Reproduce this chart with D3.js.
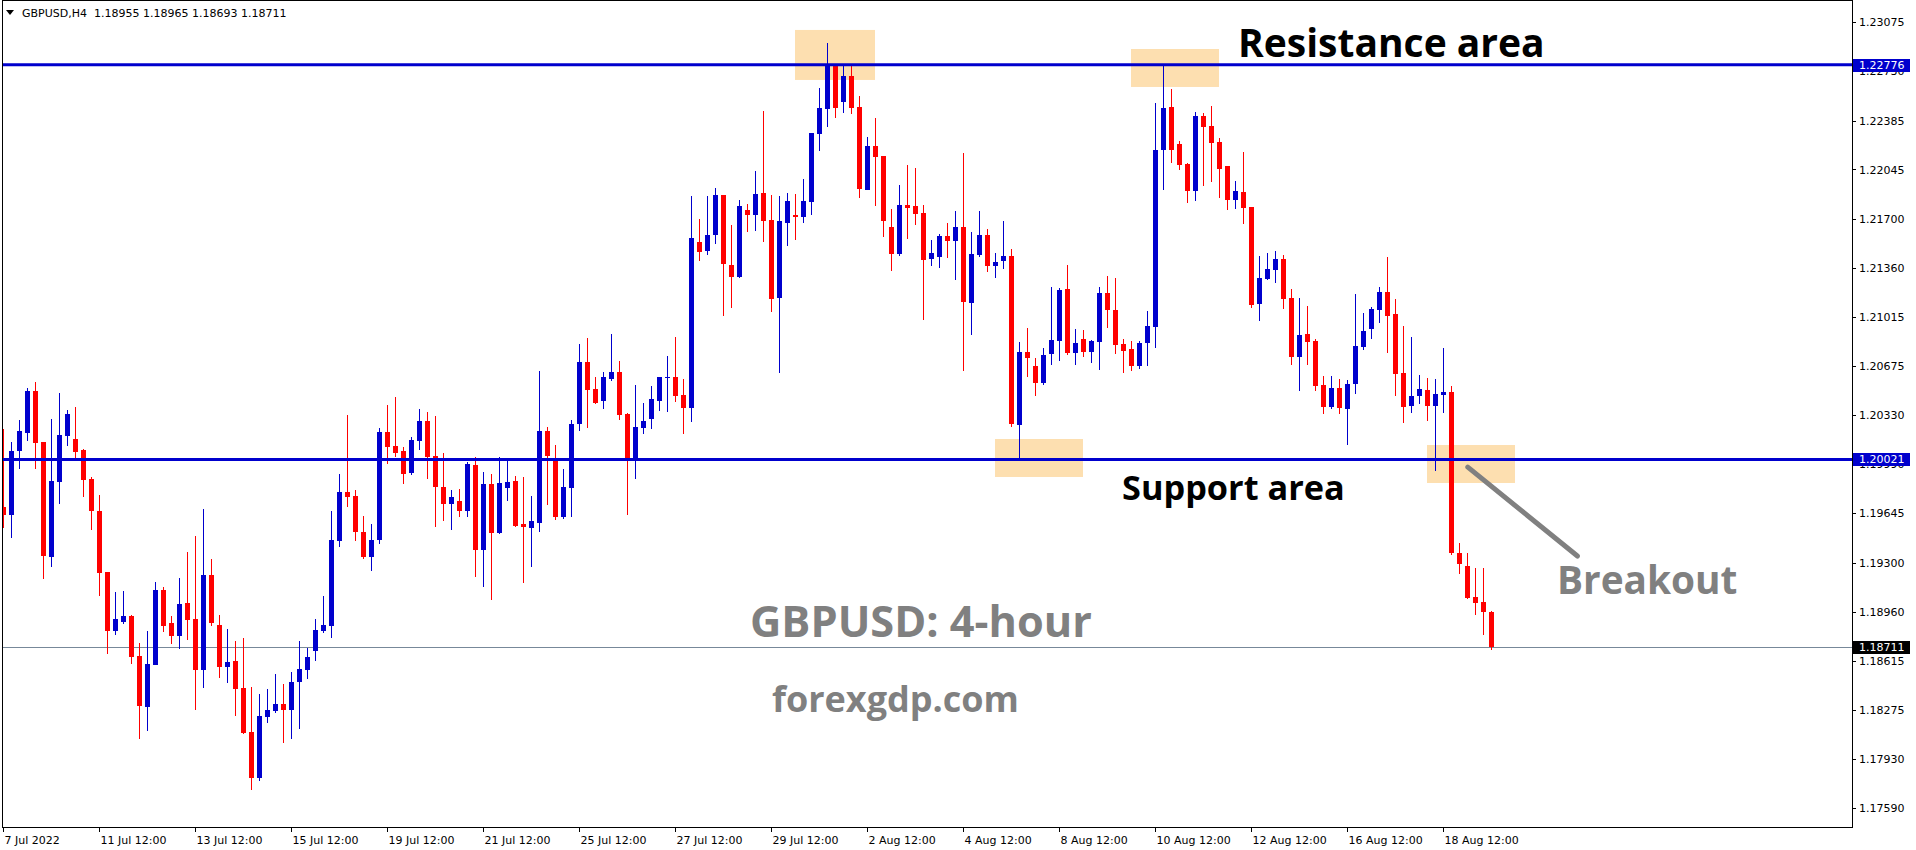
<!DOCTYPE html>
<html><head><meta charset="utf-8">
<script src="https://cdn.jsdelivr.net/npm/d3@7"></script>
<style>body{margin:0;background:#fff;overflow:hidden}svg{display:block}</style>
</head><body>
<svg id="c" width="1916" height="850"></svg>
<script>
// ---------- DATA ----------
const headerText = "GBPUSD,H4  1.18955 1.18965 1.18693 1.18711";
const opens = [1.19691,1.19635,1.20082,1.20208,1.20499,1.20143,1.19342,1.19864,1.20187,1.20164,
1.20087,1.19885,1.19661,1.19235,1.18826,1.18889,1.18928,1.18649,1.18295,1.18588,
1.19110,1.18879,1.18791,1.19019,1.18907,1.18553,1.19214,1.18865,1.18574,1.18614,
1.18426,1.18119,1.17800,1.18225,1.18267,1.18314,1.18274,1.18470,1.18553,1.18681,
1.18826,1.18861,1.19454,1.19794,1.19766,1.19515,1.19342,1.19461,1.20213,1.20115,
1.20080,1.19929,1.20152,1.20289,1.20045,1.19829,1.19712,1.19731,1.19663,1.19982,
1.19391,1.19850,1.19510,1.19824,1.19871,1.19570,1.19545,1.19580,1.20220,1.20024,
1.19621,1.19824,1.20270,1.20701,1.20513,1.20431,1.20585,1.20631,1.20338,1.20026,
1.20243,1.20305,1.20431,1.20592,1.20597,1.20471,1.20382,1.21539,1.21478,1.21590,
1.21867,1.21380,1.21295,1.21762,1.21729,1.21881,1.21692,1.21150,1.21673,1.21727,
1.21715,1.21820,1.22295,1.22469,1.22767,1.22518,1.22698,1.22481,1.21904,1.22209,
1.22141,1.21644,1.21457,1.21797,1.21790,1.21741,1.21422,1.21436,1.21581,1.21548,
1.21644,1.21115,1.21450,1.21588,1.21373,1.21406,1.21441,1.20263,1.20771,1.20673,
1.20557,1.20759,1.20850,1.21211,1.20766,1.20862,1.20773,1.20843,1.21183,1.21064,
1.20827,1.20792,1.20675,1.20836,1.20947,1.22184,1.22481,1.22223,1.22083,1.21897,
1.22418,1.22348,1.22237,1.22069,1.21834,1.21888,1.21783,1.21108,1.21283,1.21345,
1.21422,1.21148,1.20738,1.20897,1.20848,1.20541,1.20389,1.20520,1.20373,1.20546,
1.20808,1.20934,1.21066,1.21190,1.21036,1.20625,1.20396,1.20466,1.20506,1.20396,
1.20473,1.20492,1.19368,1.19277,1.19061,1.19026,1.18955];
const highs = [1.20231,1.20143,1.20296,1.20518,1.20559,1.20143,1.20301,1.20483,1.20364,1.20387,
1.20092,1.19896,1.19772,1.19235,1.19096,1.19103,1.18935,1.18740,1.18824,1.19165,
1.19131,1.18928,1.19191,1.19375,1.19487,1.19675,1.19326,1.18935,1.18838,1.18754,
1.18775,1.18433,1.18384,1.18419,1.18523,1.18454,1.18537,1.18754,1.18705,1.18907,
1.19068,1.19661,1.19919,1.20331,1.19808,1.19626,1.19570,1.20241,1.20401,1.20457,
1.20108,1.20178,1.20373,1.20352,1.20324,1.20066,1.19808,1.19815,1.20003,1.20038,
1.19933,1.19919,1.20038,1.20017,1.19906,1.19899,1.19766,1.20638,1.20248,1.20122,
1.19954,1.20296,1.20827,1.20869,1.20597,1.20631,1.20897,1.20708,1.20345,1.20541,
1.20415,1.20534,1.20597,1.20743,1.20876,1.20583,1.21860,1.21699,1.21860,1.21916,
1.21867,1.21657,1.21832,1.21804,1.22034,1.22453,1.21867,1.21860,1.21881,1.21874,
1.21979,1.22302,1.22614,1.22928,1.22776,1.22767,1.22767,1.22558,1.22272,1.22404,
1.22141,1.21769,1.21937,1.22076,1.22055,1.21797,1.21553,1.21595,1.21671,1.21755,
1.22160,1.21609,1.21755,1.21630,1.21462,1.21685,1.21490,1.20843,1.20941,1.20726,
1.20801,1.21225,1.21218,1.21378,1.20934,1.20927,1.20857,1.21227,1.21302,1.21288,
1.20862,1.20850,1.20848,1.21057,1.22509,1.22776,1.22607,1.22244,1.22090,1.22446,
1.22439,1.22488,1.22265,1.22069,1.21965,1.22167,1.21783,1.21441,1.21462,1.21476,
1.21448,1.21211,1.21148,1.21092,1.20862,1.20603,1.20603,1.20583,1.20576,1.21176,
1.21043,1.21084,1.21225,1.21434,1.21141,1.20952,1.20876,1.20610,1.20590,1.20583,
1.20799,1.20534,1.19438,1.19368,1.19265,1.19265,1.18965];
const lows = [1.19545,1.19475,1.19954,1.20152,1.19956,1.19187,1.19272,1.19710,1.20115,1.20030,
1.19759,1.19531,1.19070,1.18665,1.18798,1.18875,1.18595,1.18072,1.18128,1.18588,
1.18819,1.18735,1.18700,1.18763,1.18274,1.18426,1.18861,1.18498,1.18461,1.18232,
1.18105,1.17714,1.17777,1.18184,1.18254,1.18042,1.18072,1.18142,1.18489,1.18616,
1.18812,1.18777,1.19412,1.19691,1.19454,1.19328,1.19242,1.19433,1.19989,1.20040,
1.19850,1.19915,1.20090,1.19887,1.19552,1.19594,1.19531,1.19621,1.19621,1.19203,
1.19133,1.19042,1.19503,1.19733,1.19552,1.19161,1.19270,1.19517,1.19705,1.19600,
1.19607,1.19621,1.20221,1.20243,1.20410,1.20375,1.20571,1.20298,1.19635,1.19887,
1.20201,1.20236,1.20361,1.20354,1.20424,1.20201,1.20284,1.21408,1.21450,1.21527,
1.21025,1.21080,1.21288,1.21611,1.21618,1.21541,1.21052,1.20627,1.21513,1.21555,
1.21673,1.21729,1.22176,1.22344,1.22406,1.22441,1.22433,1.21848,1.21904,1.21792,
1.21576,1.21338,1.21443,1.21562,1.21657,1.20996,1.21373,1.21359,1.21429,1.21276,
1.20641,1.20892,1.21436,1.21332,1.21290,1.21350,1.20250,1.20024,1.20599,1.20466,
1.20543,1.20682,1.20710,1.20752,1.20682,1.20738,1.20696,1.20647,1.20941,1.20759,
1.20627,1.20641,1.20654,1.20676,1.20801,1.21904,1.22092,1.22043,1.21813,1.21827,
1.21932,1.21960,1.21848,1.21764,1.21771,1.21666,1.21080,1.20989,1.21276,1.21255,
1.21073,1.20682,1.20501,1.20682,1.20497,1.20338,1.20370,1.20340,1.20124,1.20478,
1.20787,1.20864,1.20976,1.20766,1.20466,1.20277,1.20347,1.20410,1.20291,1.19943,
1.20347,1.19356,1.19223,1.19049,1.18937,1.18798,1.18693];
const closes = [1.19635,1.20080,1.20220,1.20499,1.20138,1.19349,1.19871,1.20192,1.20338,1.20076,
1.19880,1.19663,1.19230,1.18826,1.18907,1.18928,1.18644,1.18302,1.18593,1.19110,
1.18861,1.18791,1.19012,1.18902,1.18553,1.19214,1.18882,1.18574,1.18607,1.18421,
1.18114,1.17800,1.18230,1.18272,1.18314,1.18274,1.18468,1.18558,1.18642,1.18831,
1.18865,1.19459,1.19794,1.19759,1.19517,1.19342,1.19459,1.20213,1.20108,1.20068,
1.19919,1.20157,1.20289,1.20040,1.19829,1.19712,1.19759,1.19663,1.19989,1.19391,
1.19850,1.19510,1.19857,1.19864,1.19559,1.19552,1.19591,1.20220,1.20047,1.19621,
1.19829,1.20268,1.20701,1.20506,1.20417,1.20597,1.20631,1.20333,1.20026,1.20248,
1.20289,1.20443,1.20597,1.20597,1.20466,1.20382,1.21567,1.21471,1.21588,1.21867,
1.21385,1.21295,1.21790,1.21729,1.21874,1.21687,1.21143,1.21685,1.21825,1.21715,
1.21825,1.22300,1.22474,1.22774,1.22476,1.22698,1.22476,1.21911,1.22209,1.22134,
1.21687,1.21457,1.21797,1.21778,1.21736,1.21415,1.21462,1.21581,1.21548,1.21644,
1.21122,1.21455,1.21588,1.21373,1.21399,1.21441,1.20270,1.20771,1.20726,1.20557,
1.20750,1.20855,1.21204,1.20766,1.20834,1.20773,1.20848,1.21183,1.21066,1.20822,
1.20780,1.20675,1.20834,1.20952,1.22181,1.22474,1.22184,1.22078,1.21897,1.22418,
1.22343,1.22232,1.22050,1.21834,1.21895,1.21778,1.21101,1.21288,1.21350,1.21422,
1.21143,1.20738,1.20890,1.20843,1.20536,1.20389,1.20520,1.20382,1.20548,1.20813,
1.20918,1.21070,1.21190,1.21024,1.20620,1.20389,1.20464,1.20513,1.20396,1.20478,
1.20492,1.19370,1.19293,1.19056,1.19021,1.18955,1.18711];
const timeTickBars = [0,12,24,36,48,60,72,84,96,108,120,132,144,156,168,180];
const timeTickLabels = ["7 Jul 2022","11 Jul 12:00","13 Jul 12:00","15 Jul 12:00","19 Jul 12:00","21 Jul 12:00",
  "25 Jul 12:00","27 Jul 12:00","29 Jul 12:00","2 Aug 12:00","4 Aug 12:00","8 Aug 12:00",
  "10 Aug 12:00","12 Aug 12:00","16 Aug 12:00","18 Aug 12:00"];
const priceTicks = [1.23075,1.22730,1.22385,1.22045,1.21700,1.21360,1.21015,1.20675,1.20330,
  1.19990,1.19645,1.19300,1.18960,1.18615,1.18275,1.17930,1.17590];
const resistanceLevel = 1.22776;
const supportLevel = 1.20021;
const lastPrice = 1.18711;
// highlighted zones: bar range and price range
const zoneFrom = [99, 141, 124, 178];
const zoneTo = [109, 152, 135, 189];
const zoneTop = [1.23019, 1.22886, 1.20164, 1.20122];
const zoneBottom = [1.22670, 1.22621, 1.19899, 1.19857];
// breakout pointer (bar, price)
const pointerStart = [183.1, 1.19968];
const pointerEnd = [196.8, 1.19347];

// ---------- LAYOUT ----------
const W = 1916, H = 850;
const L = 2, R = 1852, T = 1, B = 827;
const BLUE = "#0000cd", RED = "#ff0000";

const svg = d3.select("#c");
const x = d3.scaleLinear().domain([0, 186]).range([3, 1491]);
const y = d3.scaleLinear().domain([1.17456, 1.23228]).range([B, 0]);

svg.append("rect").attr("width", W).attr("height", H).attr("fill", "#fff");
svg.append("defs").append("clipPath").attr("id", "plot")
  .append("rect").attr("x", L + 1).attr("y", T).attr("width", R - L - 1).attr("height", B - T);

const plot = svg.append("g").attr("clip-path", "url(#plot)");

// zones
plot.append("g").selectAll("rect").data(zoneFrom).join("rect")
  .attr("x", (d, i) => x(zoneFrom[i]))
  .attr("width", (d, i) => x(zoneTo[i]) - x(zoneFrom[i]))
  .attr("y", (d, i) => y(zoneTop[i]))
  .attr("height", (d, i) => y(zoneBottom[i]) - y(zoneTop[i]))
  .attr("fill", "#fddfb0");

// last price line
plot.append("line").attr("x1", L).attr("x2", R)
  .attr("y1", Math.round(y(lastPrice)) + 0.5).attr("y2", Math.round(y(lastPrice)) + 0.5)
  .attr("stroke", "#778899").attr("stroke-width", 1);

// candles
const idx = d3.range(opens.length);
const cg = plot.append("g").attr("shape-rendering", "crispEdges");
const col = i => closes[i] >= opens[i] ? BLUE : RED;
cg.selectAll("line").data(idx).join("line")
  .attr("x1", i => Math.round(x(i)) + 0.5).attr("x2", i => Math.round(x(i)) + 0.5)
  .attr("y1", i => y(highs[i])).attr("y2", i => y(lows[i]))
  .attr("stroke", col).attr("stroke-width", 1);
cg.selectAll("rect").data(idx).join("rect")
  .attr("x", i => Math.round(x(i)) - 2).attr("width", 5)
  .attr("y", i => y(Math.max(opens[i], closes[i])))
  .attr("height", i => Math.max(1, Math.abs(y(opens[i]) - y(closes[i]))))
  .attr("fill", col);

// resistance / support lines
[resistanceLevel, supportLevel].forEach(v => {
  plot.append("line").attr("x1", L).attr("x2", R).attr("y1", y(v)).attr("y2", y(v))
    .attr("stroke", BLUE).attr("stroke-width", 3);
});

// pointer
plot.append("line")
  .attr("x1", x(pointerStart[0])).attr("y1", y(pointerStart[1]))
  .attr("x2", x(pointerEnd[0])).attr("y2", y(pointerEnd[1]))
  .attr("stroke", "#808080").attr("stroke-width", 5).attr("stroke-linecap", "round");

// annotation texts
const big = (t, px, py, size, fill) => plot.append("text").text(t)
  .attr("x", px).attr("y", py).attr("font-family", "'Open Sans', sans-serif")
  .attr("font-weight", 700).attr("font-size", size).attr("fill", fill);
big("Resistance area", 1238, 57, 39, "#000");
big("Support area", 1122, 500, 34.3, "#000");
big("Breakout", 1557, 594, 38.8, "#808080");
big("GBPUSD: 4-hour", 750, 637, 43.3, "#808080");
big("forexgdp.com", 772, 712, 36, "#808080");

// frame
svg.append("rect").attr("x", L + 0.5).attr("y", T - 0.5).attr("width", R - L).attr("height", B - T + 0.5)
  .attr("fill", "none").attr("stroke", "#000").attr("stroke-width", 1).attr("shape-rendering", "crispEdges");

// header
svg.append("path").attr("d", "M6,10 L14,10 L10,15 Z").attr("fill", "#000");
svg.append("text").text(headerText).attr("x", 22).attr("y", 17)
  .attr("font-family", "'DejaVu Sans', sans-serif").attr("font-size", 11).attr("fill", "#000")
  .style("white-space", "pre").attr("xml:space", "preserve");

// right price axis
const ra = svg.append("g").attr("transform", `translate(${R},0)`);
const rAxis = d3.axisRight(y).tickValues(priceTicks).tickFormat(d3.format(".5f")).tickSize(4).tickPadding(3);
ra.call(rAxis);
ra.select(".domain").remove();
ra.selectAll(".tick line").attr("stroke", "#000").attr("shape-rendering", "crispEdges");
ra.selectAll(".tick text").attr("font-family", "'DejaVu Sans', sans-serif").attr("font-size", 11).attr("fill", "#000");

const tag = (v, bg) => {
  const g = svg.append("g");
  g.append("rect").attr("x", R + 1).attr("y", Math.round(y(v)) - 6).attr("width", 57).attr("height", 13).attr("fill", bg);
  g.append("text").text(d3.format(".5f")(v)).attr("x", R + 7).attr("y", y(v)).attr("dy", "0.35em")
    .attr("font-family", "'DejaVu Sans', sans-serif").attr("font-size", 11).attr("fill", "#fff");
};
tag(resistanceLevel, BLUE);
tag(supportLevel, BLUE);
tag(lastPrice, "#000");

// bottom time axis
const ba = svg.append("g").attr("transform", `translate(0,${B})`);
const bAxis = d3.axisBottom(x).tickValues(timeTickBars).tickFormat((d, i) => timeTickLabels[i]).tickSize(5).tickPadding(4);
ba.call(bAxis);
ba.select(".domain").remove();
ba.selectAll(".tick line").attr("stroke", "#000").attr("shape-rendering", "crispEdges");
ba.selectAll(".tick text").attr("text-anchor", "start").attr("x", 1)
  .attr("font-family", "'DejaVu Sans', sans-serif").attr("font-size", 11).attr("fill", "#000");
</script>
</body></html>
